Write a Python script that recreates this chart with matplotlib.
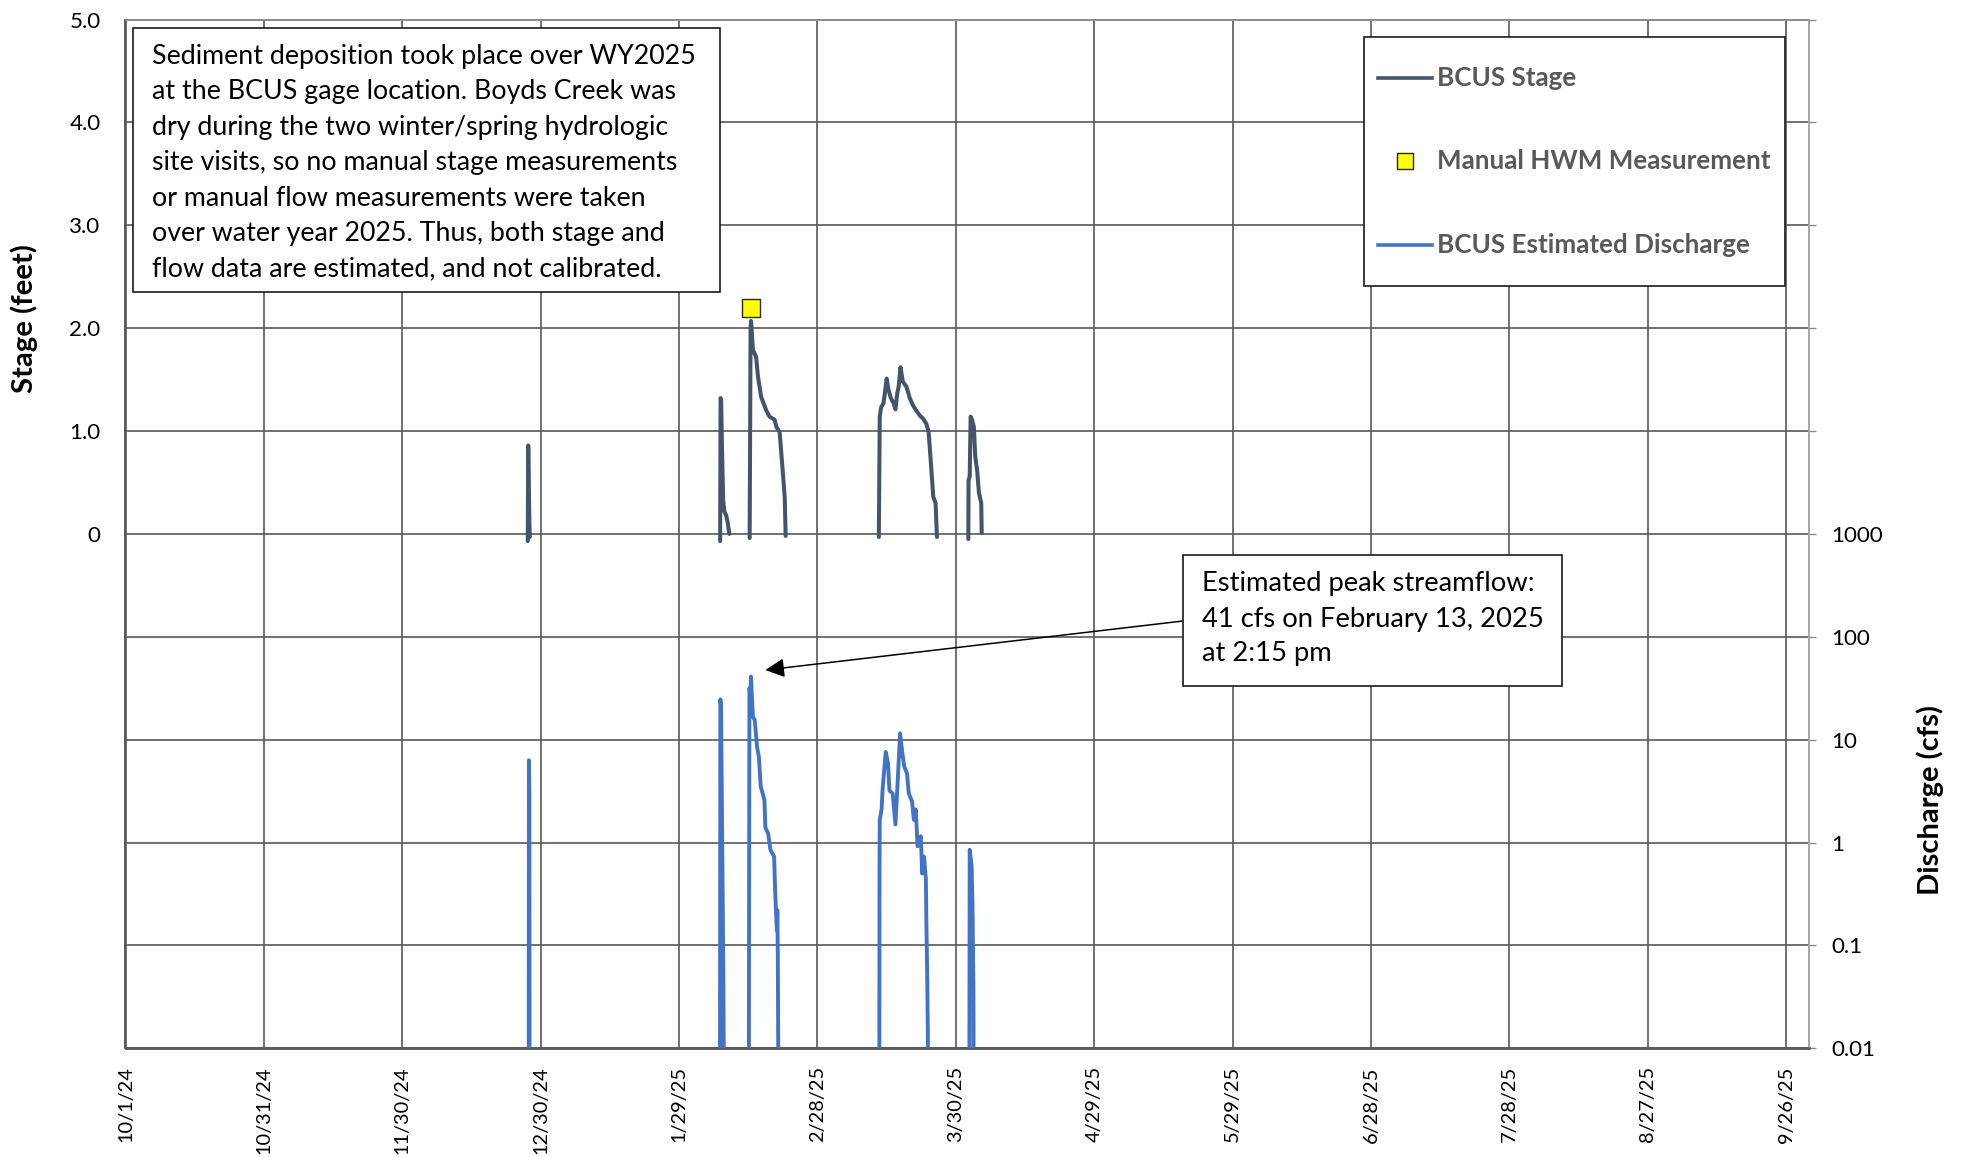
import numpy as np
import matplotlib
matplotlib.use("Agg")
import matplotlib.pyplot as plt
import matplotlib.dates as mdates
from matplotlib.patches import Rectangle
from matplotlib.lines import Line2D
from matplotlib.ticker import FixedLocator, NullLocator, FuncFormatter
import datetime as dt

# ---------------- data (days since 2024-10-01) ----------------
start_date = dt.datetime(2024, 10, 1)

stage_e1_day = [87.2, 87.3, 87.45, 87.55, 87.65]
stage_e1_ft = [-0.07, 0.86, 0.40, 0.12, -0.03]
stage_e2a_day = [128.9, 129.0, 129.12, 129.34, 129.56, 129.8, 130.2, 130.5, 130.9]
stage_e2a_ft = [-0.07, 1.32, 1.30, 0.75, 0.33, 0.22, 0.18, 0.12, 0.0]
stage_e2b_day = [135.3, 135.5, 135.59, 135.7, 136.0, 136.7, 137.1, 137.8, 138.9,
                 139.6, 140.7, 141.1, 141.8, 142.1, 142.9, 143.1]
stage_e2b_ft = [-0.04, 2.0, 2.07, 2.01, 1.79, 1.72, 1.53, 1.33, 1.20,
                1.14, 1.11, 1.04, 0.99, 0.82, 0.36, -0.02]
stage_e3_day = [163.3, 163.5, 163.8, 164.3, 164.5, 165.0, 165.4, 165.9, 166.5, 166.9,
                167.3, 167.6, 168.0, 168.5, 169.3, 170.0, 170.7, 171.4, 172.2, 172.9,
                173.6, 174.1, 174.6, 175.1, 175.6, 175.9]
stage_e3_ft = [-0.03, 1.14, 1.23, 1.27, 1.33, 1.51, 1.40, 1.32, 1.27, 1.21,
               1.37, 1.43, 1.62, 1.48, 1.43, 1.32, 1.25, 1.20, 1.15, 1.12,
               1.07, 0.99, 0.68, 0.36, 0.30, -0.03]
stage_e4_day = [182.7, 182.75, 183.0, 183.2, 183.5, 183.9, 184.2, 184.6, 185.0, 185.5, 185.6]
stage_e4_ft = [-0.05, 0.52, 0.56, 1.14, 1.11, 1.04, 0.75, 0.62, 0.40, 0.30, 0.01]

q_e1_day = [87.4, 87.45, 87.55, 87.6]
q_e1_cfs = [0.001, 6.3, 3.0, 0.001]
q_e2a_day = [128.85, 128.95, 129.1, 129.6, 129.8]
q_e2a_cfs = [0.001, 24.6, 21.0, 0.05, 0.001]
q_e2b_day = [135.1, 135.25, 135.45, 135.59, 136.0, 136.4, 136.9, 137.3, 137.7, 138.5,
             138.7, 139.3, 139.8, 140.6, 140.8, 141.0, 141.2, 141.3, 141.4, 141.6]
q_e2b_cfs = [0.001, 31.6, 28.0, 41.0, 16.7, 15.5, 8.5, 6.8, 3.5, 2.6,
             1.4, 1.23, 0.85, 0.73, 0.37, 0.22, 0.14, 0.22, 0.083, 0.001]
q_e3_day = [163.4, 163.45, 163.5, 163.9, 164.1, 164.8, 165.3, 165.6, 166.3, 166.9,
            167.4, 167.9, 168.4, 168.8, 169.4, 169.8, 170.5, 170.9, 171.3, 171.7,
            172.4, 172.7, 173.1, 173.5, 173.6, 173.8, 174.2]
q_e3_cfs = [0.001, 0.54, 1.66, 2.1, 3.2, 7.6, 5.9, 3.2, 3.0, 1.5,
            4.0, 11.5, 7.4, 5.5, 4.7, 3.0, 2.5, 1.66, 2.1, 0.92,
            1.15, 0.50, 0.73, 0.44, 0.18, 0.046, 0.001]
q_e4_day = [182.9, 183.0, 183.4, 183.6, 183.8, 183.9]
q_e4_cfs = [0.001, 0.85, 0.6, 0.26, 0.04, 0.001]

hwm_day = [135.6]
hwm_ft = [2.20]

peak_day = 138.7
peak_cfs = 47.5

stage_ticks = [-5, -4, -3, -2, -1, 0, 1, 2, 3, 4, 5]
stage_ticklabels = ["", "", "", "", "", "0", "1.0", "2.0", "3.0", "4.0", "5.0"]
q_ticks = [1e-2, 1e-1, 1e0, 1e1, 1e2, 1e3, 1e4, 1e5, 1e6, 1e7, 1e8]
q_ticklabels = ["0.01", "0.1", "1", "10", "100", "1000", "", "", "", "", ""]
x_tick_step_days = 30
n_x_ticks = 13

note1_lines = ["Sediment deposition took place over WY2025",
               "at the BCUS gage location. Boyds Creek was",
               "dry during the two winter/spring hydrologic",
               "site visits, so no manual stage measurements",
               "or manual flow measurements were taken",
               "over water year 2025. Thus, both stage and",
               "flow data are estimated, and not calibrated."]
note2_lines = ["Estimated peak streamflow:",
               "41 cfs on February 13, 2025",
               "at 2:15 pm"]
legend_labels = ["BCUS Stage", "Manual HWM Measurement", "BCUS Estimated Discharge"]

# ---------------- styles ----------------
STAGE_C = "#44546A"
Q_C = "#4472C4"
GRID_C = "#595959"
FONT = ["Lato", "DejaVu Sans"]
plt.rcParams["font.family"] = FONT

W, H = 1963, 1157
fig = plt.figure(figsize=(W / 100, H / 100), dpi=100)
renderer = fig.canvas.get_renderer()


def fx(x):
    return x / W


def fy(y):
    return 1 - y / H


def fit_size(s, target, weight="normal", base=20.0):
    t = fig.text(0, 0, s, fontsize=base, fontweight=weight)
    w = t.get_window_extent(renderer).width
    t.remove()
    return base * target / w


L, R, T, B = 125.5, 1809.3, 19.5, 1048.3
ax = fig.add_axes([fx(L), fy(B), (R - L) / W, (B - T) / H])
ax2 = ax.twinx()

x0 = mdates.date2num(start_date)


def xd(days):
    return x0 + np.asarray(days, dtype=float)


# stage series
stage_events = [(stage_e1_day, stage_e1_ft), (stage_e2a_day, stage_e2a_ft),
                (stage_e2b_day, stage_e2b_ft), (stage_e3_day, stage_e3_ft),
                (stage_e4_day, stage_e4_ft)]
for d, v in stage_events:
    ax.plot(xd(d), v, color=STAGE_C, lw=2.9, solid_joinstyle="round",
            solid_capstyle="round", zorder=3)
ax.plot(xd(hwm_day), hwm_ft, ls="none", marker="s", ms=13, mfc="#FFFF00",
        mec="#262626", mew=1.0, zorder=4)

q_events = [(q_e1_day, q_e1_cfs), (q_e2a_day, q_e2a_cfs), (q_e2b_day, q_e2b_cfs),
            (q_e3_day, q_e3_cfs), (q_e4_day, q_e4_cfs)]
for d, v in q_events:
    ax2.plot(xd(d), v, color=Q_C, lw=2.8, solid_joinstyle="round",
             solid_capstyle="round", zorder=3)

# axes limits / scales
ax.set_xlim(x0, x0 + 365)
ax.set_ylim(-5, 5)
ax2.set_yscale("log")
ax2.set_ylim(1e-2, 1e8)

# ticks
ytick_fs = fit_size("1000", 52)
xtick_fs = fit_size("10/1/24", 76)
xticks = [x0 + i * x_tick_step_days for i in range(n_x_ticks)]
ax.set_xticks(xticks)
ax.xaxis.set_major_formatter(FuncFormatter(
    lambda v, p: (lambda d: f"{d.month}/{d.day}/{d.year % 100:02d}")(mdates.num2date(v))))
ax.tick_params(axis="x", length=0, pad=13, labelsize=xtick_fs, labelrotation=90)
ax.set_yticks(stage_ticks)
ax.set_yticklabels(stage_ticklabels)
ax.tick_params(axis="y", length=0, pad=18, labelsize=ytick_fs)

ax2.yaxis.set_major_locator(FixedLocator(q_ticks))
ax2.yaxis.set_minor_locator(NullLocator())
ax2.set_yticks(q_ticks)
ax2.set_yticklabels(q_ticklabels)
ax2.tick_params(axis="y", which="major", direction="out", length=5, width=1.0,
                color="#8c8c8c", pad=11, labelsize=ytick_fs)
ax2.set_xlim(x0, x0 + 365)

ax.grid(True, which="major", axis="both", color=GRID_C, lw=1.2, zorder=0)
ax.set_axisbelow(True)

for a in (ax, ax2):
    a.spines["left"].set_color(GRID_C)
    a.spines["left"].set_linewidth(1.2)
    a.spines["bottom"].set_color("#5a5a5a")
    a.spines["bottom"].set_linewidth(1.8)
    a.spines["top"].set_color("#8c8c8c")
    a.spines["top"].set_linewidth(1.2)
    a.spines["right"].set_color("#a6a6a6")
    a.spines["right"].set_linewidth(1.2)

# axis titles
fig.text(fx(24.5), fy(319), "Stage (feet)", rotation=90, ha="center", va="center",
         fontsize=fit_size("Stage (feet)", 149, "bold"), fontweight="bold")
fig.text(fx(1930), fy(800), "Discharge (cfs)", rotation=90, ha="center", va="center",
         fontsize=fit_size("Discharge (cfs)", 190, "bold"), fontweight="bold")

# note box 1
fig.patches.append(Rectangle((fx(132.7), fy(291.7)), (720 - 132.7) / W, (291.7 - 27.5) / H,
                             transform=fig.transFigure, facecolor="white",
                             edgecolor="#1a1a1a", lw=1.2, zorder=5))
note_fs = fit_size(note1_lines[0], 544)
for i, s in enumerate(note1_lines):
    fig.text(fx(151.5), fy(56.3 + i * 35.5), s, ha="left", va="center",
             fontsize=note_fs, zorder=6)

# note box 2 with arrow
fig.patches.append(Rectangle((fx(1182.6), fy(686)), (1562 - 1182.6) / W, (686 - 554.6) / H,
                             transform=fig.transFigure, facecolor="white",
                             edgecolor="#1a1a1a", lw=1.2, zorder=5))
note2_fs = fit_size(note2_lines[0], 334)
for i, s in enumerate(note2_lines):
    fig.text(fx(1202), fy(584 + i * 35), s, ha="left", va="center",
             fontsize=note2_fs, zorder=6)
ax2.annotate("", xy=(x0 + peak_day, peak_cfs), xycoords="data",
             xytext=(1183, H - 621), textcoords="figure pixels",
             arrowprops=dict(arrowstyle="-|>,head_length=0.4,head_width=0.2",
                             mutation_scale=29, color="black", lw=1.1,
                             shrinkA=0, shrinkB=0), zorder=6)

# legend (drawn manually)
fig.patches.append(Rectangle((fx(1363.7), fy(286)), (1784.7 - 1363.7) / W, (286 - 37.3) / H,
                             transform=fig.transFigure, facecolor="white",
                             edgecolor="#1a1a1a", lw=1.2, zorder=5))
leg_fs = fit_size(legend_labels[1], 332, "bold")
leg_y = [78.3, 160.7, 245]
fig.lines.append(Line2D([fx(1378), fx(1432)], [fy(leg_y[0])] * 2, transform=fig.transFigure,
                        color=STAGE_C, lw=2.6, zorder=6))
fig.lines.append(Line2D([fx(1404.7)], [fy(leg_y[1])], transform=fig.transFigure,
                        ls="none", marker="s", ms=12, mfc="#FFFF00", mec="#262626",
                        mew=1.0, zorder=6))
fig.lines.append(Line2D([fx(1378), fx(1432)], [fy(leg_y[2])] * 2, transform=fig.transFigure,
                        color=Q_C, lw=2.6, zorder=6))
for s, yy in zip(legend_labels, leg_y):
    fig.text(fx(1437), fy(yy), s, ha="left", va="center", fontsize=leg_fs,
             fontweight="bold", color="#595959", zorder=6)

fig.savefig("out.png", dpi=100)
